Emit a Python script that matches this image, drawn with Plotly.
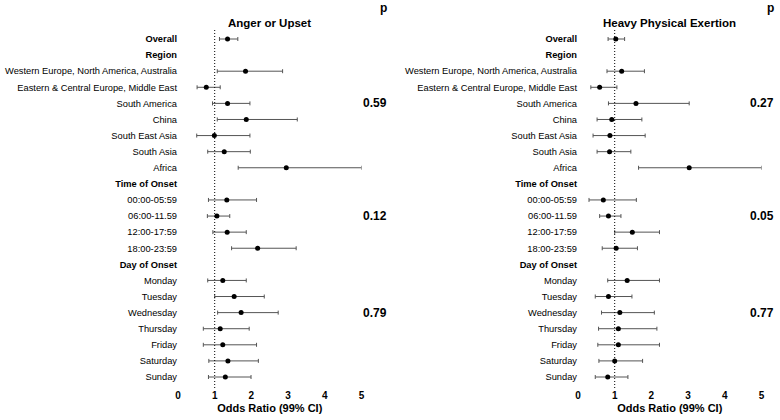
import plotly.graph_objects as go

rows = ["Overall", "Region", "Western Europe, North America, Australia",
        "Eastern & Central Europe, Middle East", "South America", "China",
        "South East Asia", "South Asia", "Africa", "Time of Onset",
        "00:00-05:59", "06:00-11.59", "12:00-17:59", "18:00-23:59",
        "Day of Onset", "Monday", "Tuesday", "Wednesday", "Thursday",
        "Friday", "Saturday", "Sunday"]
headers = ["Overall", "Region", "Time of Onset", "Day of Onset"]

# Anger or Upset
anger_or = [1.35, None, 1.84, 0.77, 1.35, 1.86, 0.99, 1.26, 2.95, None,
            1.33, 1.06, 1.34, 2.17, None, 1.22, 1.53, 1.72, 1.15, 1.22, 1.36, 1.29]
anger_lo = [1.13, None, 1.07, 0.52, 0.94, 1.07, 0.51, 0.81, 1.64, None,
            0.83, 0.80, 0.95, 1.46, None, 0.81, 1.00, 1.08, 0.69, 0.69, 0.84, 0.83]
anger_hi = [1.63, None, 2.85, 1.15, 1.96, 3.25, 1.96, 1.97, 5.00, None,
            2.14, 1.41, 1.86, 3.22, None, 1.86, 2.35, 2.73, 1.94, 2.14, 2.19, 1.99]
anger_p = {"South America": "0.59", "06:00-11.59": "0.12", "Wednesday": "0.79"}

# Heavy Physical Exertion
heavy_or = [1.03, None, 1.19, 0.59, 1.58, 0.92, 0.87, 0.86, 3.03, None,
            0.69, 0.83, 1.48, 1.04, None, 1.34, 0.83, 1.14, 1.10, 1.10, 1.00, 0.81]
heavy_lo = [0.82, None, 0.79, 0.35, 0.83, 0.52, 0.41, 0.52, 1.65, None,
            0.30, 0.59, 1.00, 0.66, None, 0.81, 0.47, 0.64, 0.56, 0.54, 0.57, 0.47]
heavy_hi = [1.27, None, 1.81, 1.06, 3.03, 1.74, 1.83, 1.44, 5.00, None,
            1.59, 1.17, 2.22, 1.62, None, 2.22, 1.47, 2.08, 2.15, 2.22, 1.76, 1.36]
heavy_p = {"South America": "0.27", "06:00-11.59": "0.05", "Wednesday": "0.77"}

xticks = [0, 1, 2, 3, 4, 5]
panels = [("Anger or Upset", anger_or, anger_lo, anger_hi, anger_p),
          ("Heavy Physical Exertion", heavy_or, heavy_lo, heavy_hi, heavy_p)]

FONT = "Liberation Sans, Arial, sans-serif"
W, H = 780, 420
top, bottom = 30, 388
row0_px, row_step = 39, 16.095
y_top = -(row0_px - top) / row_step
y_bot = (bottom - row0_px) / row_step

fig = go.Figure()
ticktext = [f"<b>{r}</b>" if r in headers else r for r in rows]
idx = list(range(len(rows)))

domains = [(178 / W, 361.5 / W), (578 / W, 761.5 / W)]
for k, (title, orv, lo, hi, pv) in enumerate(panels):
    xs, ys, ep, em = [], [], [], []
    for i, v in enumerate(orv):
        if v is None:
            continue
        xs.append(v); ys.append(i); ep.append(hi[i] - v); em.append(v - lo[i])
    ax = "" if k == 0 else "2"
    fig.add_trace(go.Scatter(
        x=xs, y=ys, mode="markers", xaxis="x" + ax, yaxis="y" + ax,
        marker=dict(color="black", size=5),
        error_x=dict(type="data", symmetric=False, array=ep, arrayminus=em,
                     color="#555555", thickness=1, width=2),
        showlegend=False, hoverinfo="skip"))
    xa = dict(domain=list(domains[k]), range=[0, 5], tickvals=xticks,
              showgrid=False, zeroline=False, showline=False, ticks="",
              tickfont=dict(size=10, weight="bold", color="black", family=FONT),
              title=dict(text="<b>Odds Ratio (99% CI)</b>", standoff=4,
                         font=dict(size=11, color="black", family=FONT)),
              anchor="y" + ax, fixedrange=True, automargin=False)
    ya = dict(range=[y_bot, y_top], tickvals=idx, ticktext=ticktext,
              showgrid=False, zeroline=False, showline=False, ticks="",
              tickfont=dict(size=9.3, color="black", family=FONT),
              anchor="x" + ax, automargin=False, domain=[0, 1], fixedrange=True)
    fig.update_layout(**{"xaxis" + ax: xa, "yaxis" + ax: ya})
    # reference line at OR = 1
    fig.add_shape(type="line", x0=1, x1=1, y0=0, y1=1, xref="x" + ax,
                  yref=f"y{ax} domain", line=dict(color="black", width=1, dash="1px,2px"))
    # panel title
    fig.add_annotation(text=f"<b>{title}</b>", xref=f"x{ax} domain", x=0.5,
                       yref="paper", y=1 + (top - 23) / (bottom - top),
                       showarrow=False, xanchor="center", yanchor="middle",
                       font=dict(size=11.5, color="black", family=FONT))
    right_edge = (389 if k == 0 else 776) / W
    px_to_paper = lambda p: (bottom - p) / (bottom - top)
    fig.add_annotation(text="<b>p</b>", x=right_edge, xref="paper",
                       y=px_to_paper(8), yref="paper", showarrow=False,
                       xanchor="right", yanchor="middle",
                       font=dict(size=12, color="black", family=FONT))
    for lab, val in pv.items():
        fig.add_annotation(text=f"<b>{val}</b>", x=right_edge, xref="paper",
                           y=rows.index(lab), yref="y" + ax, showarrow=False,
                           xanchor="right", yanchor="middle",
                           font=dict(size=12, color="black", family=FONT))

fig.update_layout(width=W, height=H, margin=dict(l=0, r=0, t=top, b=H - bottom),
                  plot_bgcolor="white", paper_bgcolor="white",
                  font=dict(family=FONT, color="black"))
fig.write_html("out.html", config={"displayModeBar": False},
               post_script="document.body.style.margin='0';")
